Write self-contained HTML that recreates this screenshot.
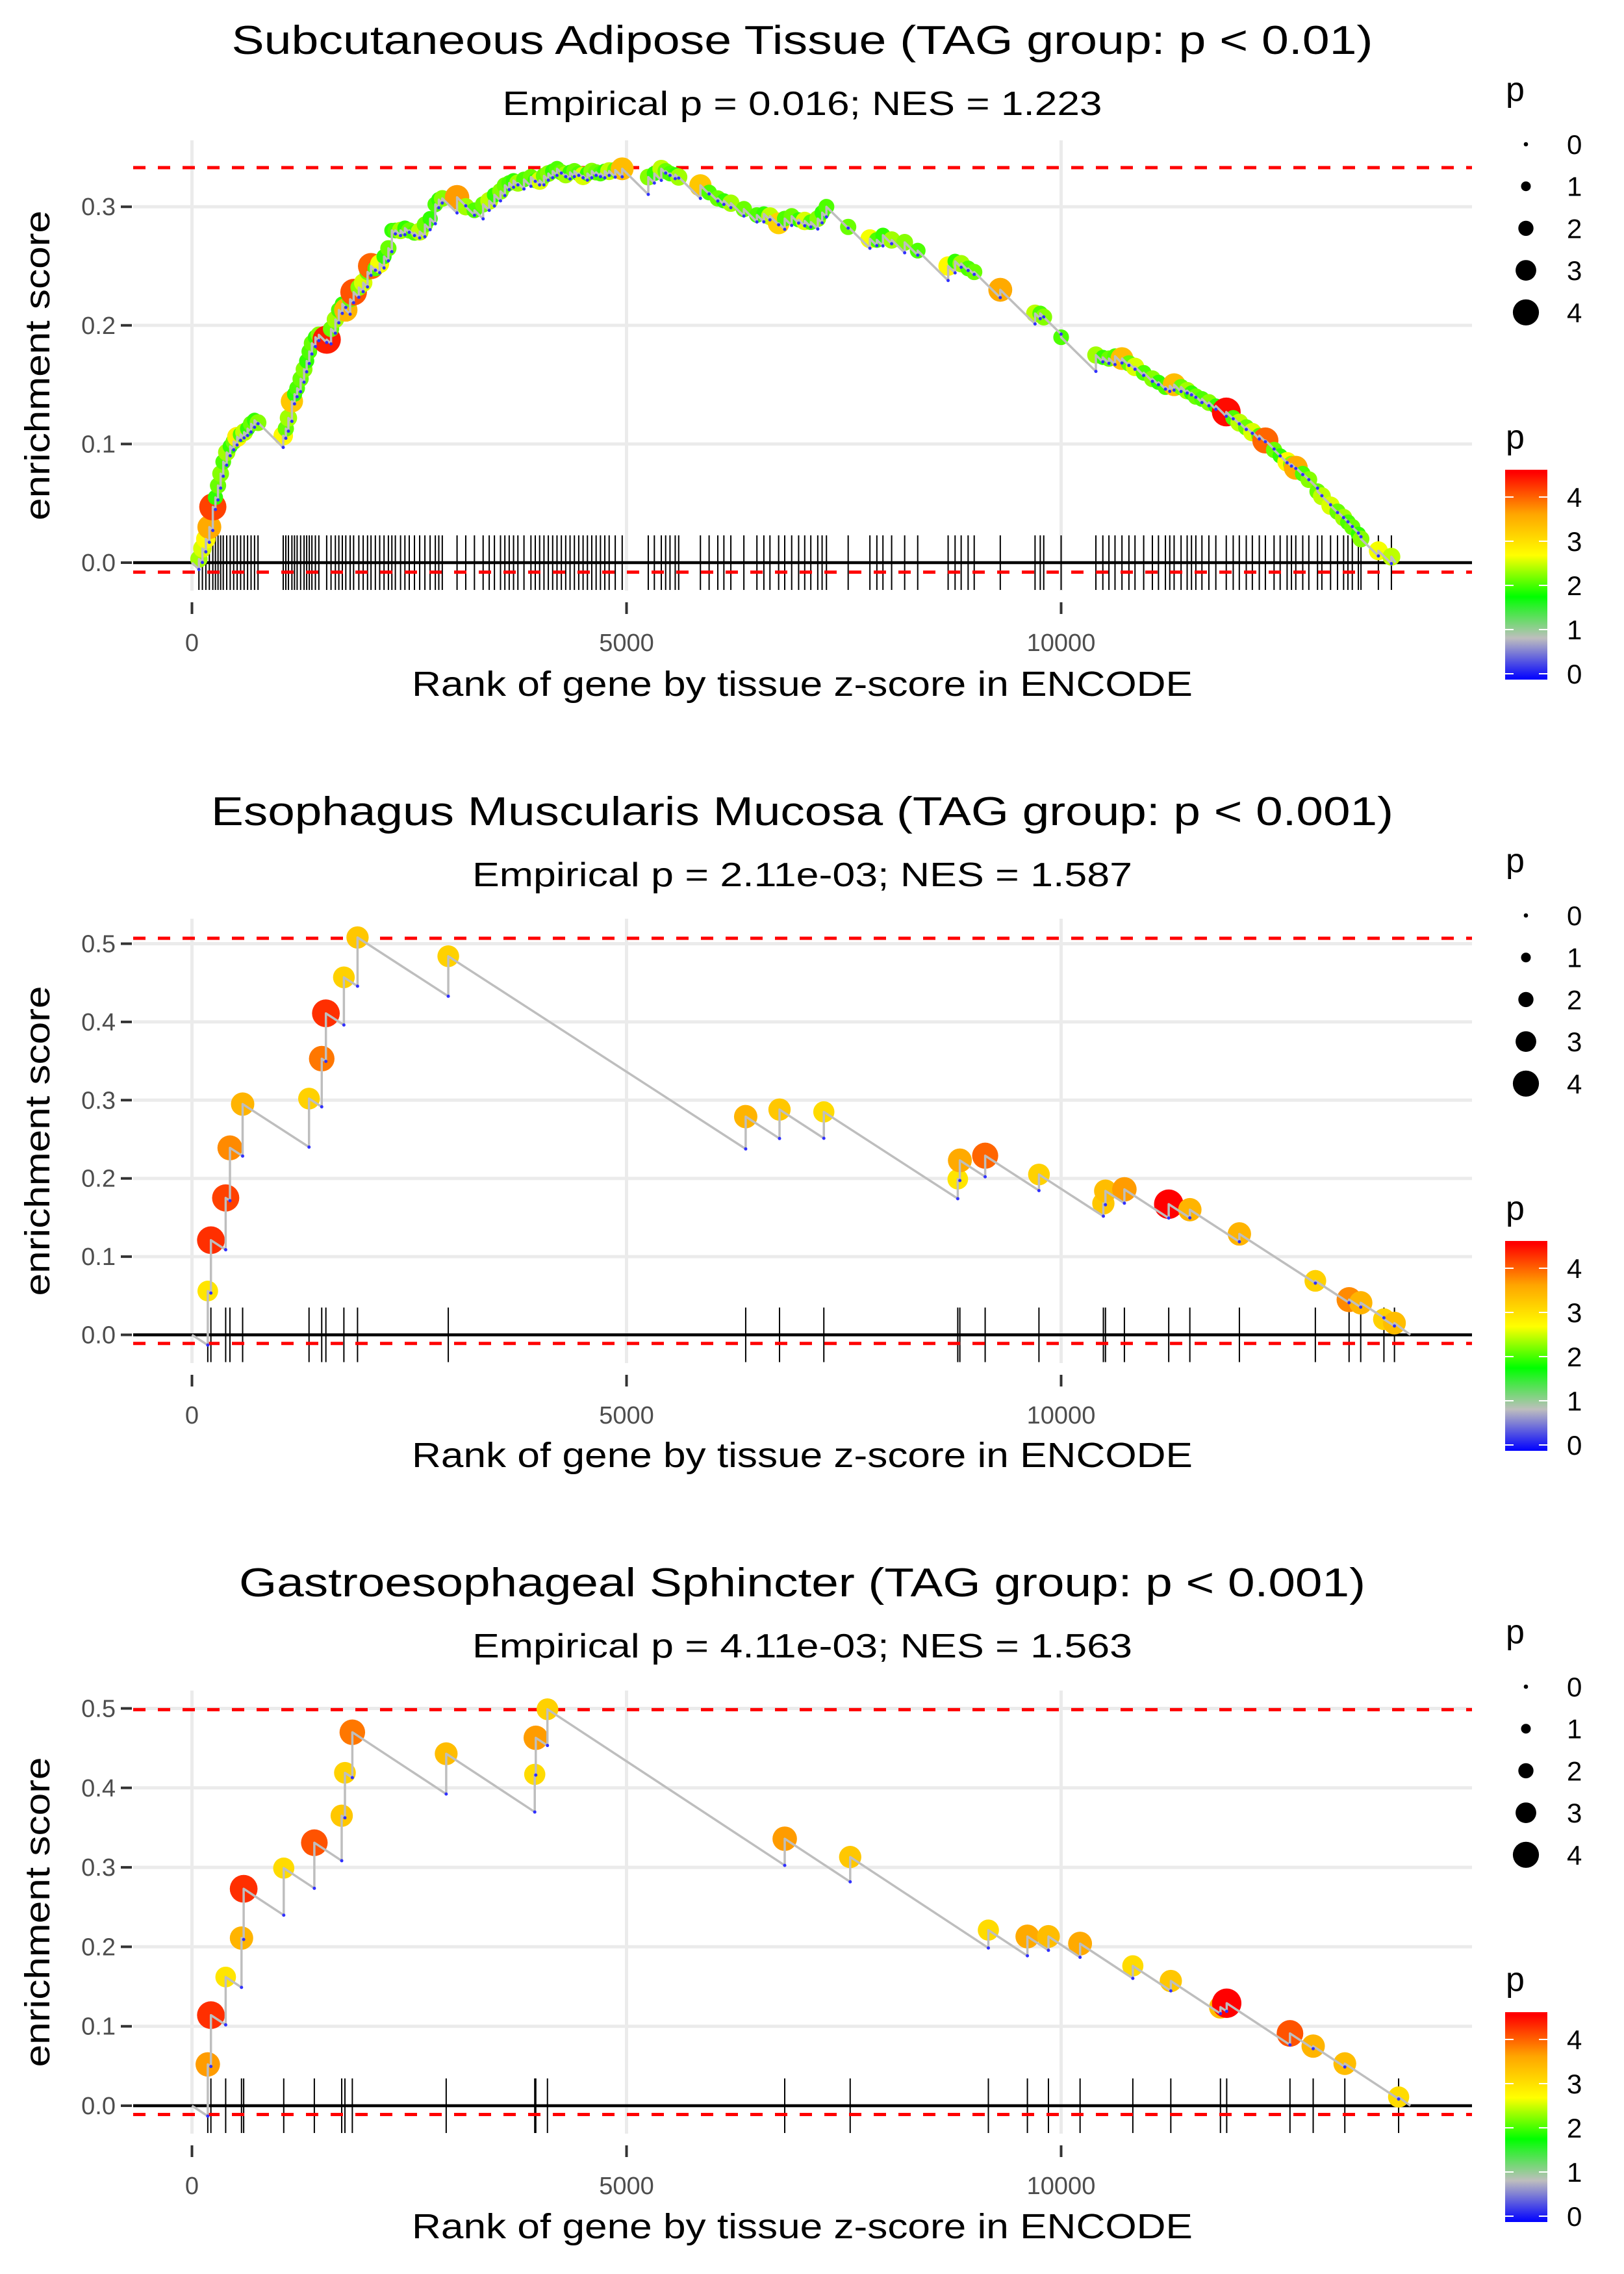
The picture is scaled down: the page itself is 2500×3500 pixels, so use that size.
<!DOCTYPE html>
<html><head><meta charset="utf-8"><style>
html,body{margin:0;padding:0;background:#fff;}
svg{display:block;font-family:"Liberation Sans",Arial,sans-serif;}
</style></head><body>
<svg id="chart" xmlns="http://www.w3.org/2000/svg" width="2500" height="3500" viewBox="0 0 2500 3500">
<rect x="0" y="0" width="2500" height="3500" fill="#fff"/>
</svg>
<script>
// ---- Panel 1: Subcutaneous Adipose Tissue ----
const p1Ranks=[80,120,160,200,240,270,300,330,360,400,
440,480,520,560,600,640,680,720,760,1050,
1080,1110,1150,1180,1210,1250,1290,1320,1350,1380,
1420,1460,1550,1600,1650,1690,1730,1770,1820,1860,
1920,1970,2020,2060,2110,2160,2210,2260,2300,2340,
2400,2450,2500,2560,2620,2680,2740,2800,2840,2880,
3050,3150,3250,3350,3420,3480,3550,3600,3650,3700,
3750,3820,3900,3950,4000,4050,4100,4150,4200,4250,
4300,4350,4400,4450,4500,4550,4600,4650,4700,4750,
4800,4870,4950,5250,5320,5400,5450,5500,5560,5600,
5850,5950,6050,6120,6200,6350,6500,6580,6650,6750,
6820,6900,6980,7050,7120,7200,7250,7300,7550,7800,
7880,7950,8050,8200,8350,8700,8780,8850,8930,9000,
9300,9700,9760,9800,10000,10400,10480,10550,10620,10700,
10780,10850,10950,11050,11120,11200,11250,11300,11380,11450,
11500,11550,11620,11700,11780,11900,11980,12050,12130,12200,
12280,12350,12450,12520,12600,12650,12700,12780,12850,12950,
13000,13100,13180,13250,13300,13350,13420,13450,13650,13800];
const p1ES=[.003,.012,.02,.03,.047,.055,.065,.075,.085,.093,
.098,.102,.106,.108,.11,.113,.117,.12,.118,.107,
.113,.122,.136,.142,.147,.155,.163,.17,.178,.185,
.19,.192,.188,.197,.205,.213,.218,.213,.222,.228,
.232,.236,.245,.25,.248,.252,.258,.265,.28,.28,
.28,.282,.28,.278,.279,.285,.29,.302,.306,.307,
.308,.30,.297,.302,.305,.31,.313,.318,.32,.322,
.32,.323,.325,.322,.322,.326,.328,.33,.332,.329,
.327,.329,.33,.328,.326,.328,.33,.329,.328,.33,
.33,.331,.332,.325,.328,.332,.33,.328,.327,.325,
.318,.312,.307,.305,.303,.298,.293,.294,.292,.286,
.29,.292,.289,.288,.287,.29,.295,.30,.283,.273,
.272,.276,.272,.27,.263,.25,.254,.252,.248,.245,
.23,.21,.21,.207,.19,.175,.173,.172,.174,.172,
.168,.165,.16,.155,.152,.148,.149,.15,.148,.145,
.143,.14,.138,.135,.132,.127,.122,.118,.114,.11,
.107,.103,.095,.09,.085,.083,.08,.075,.07,.06,
.056,.048,.043,.038,.034,.03,.024,.02,.01,.005];
const p1P=[2.4,2.6,2.8,3.6,4.2,2.0,2.2,2.3,2.1,2.4,
2.0,2.2,2.9,2.1,2.5,2.0,2.2,2.0,2.3,2.8,
2.2,2.4,3.3,2.0,2.1,2.2,2.3,2.0,2.1,2.2,
2.0,2.3,4.4,2.2,2.4,2.1,2.0,3.5,2.2,4.1,
2.3,2.6,2.2,4.0,2.1,2.7,2.0,2.2,2.0,2.1,
2.4,2.0,2.2,2.1,2.5,2.2,2.0,2.1,2.0,2.3,
3.7,2.4,2.1,2.2,2.5,2.0,2.3,2.2,2.1,2.0,
2.4,2.1,2.2,2.0,2.6,2.2,2.3,2.0,2.1,2.2,
2.4,2.0,2.2,2.1,2.6,2.0,2.3,2.2,2.1,2.0,
2.5,2.2,3.4,2.3,2.0,2.5,2.2,2.1,2.0,2.4,
3.3,2.1,2.2,2.0,2.4,2.2,2.1,2.0,2.5,3.2,
2.1,2.2,2.0,2.6,2.1,2.3,2.0,2.1,2.2,2.7,
2.1,2.0,2.4,2.3,2.1,2.8,2.0,2.4,2.1,2.2,
3.6,2.5,2.1,2.3,2.1,2.4,2.0,2.2,2.1,3.4,
2.2,2.6,2.1,2.3,2.0,2.1,2.0,3.4,2.2,2.4,
2.0,2.2,2.1,2.3,2.0,4.5,2.1,2.5,2.2,2.6,
2.1,4.0,2.2,2.0,2.8,2.3,3.6,2.1,2.3,2.2,
2.5,2.6,2.2,2.4,2.1,2.2,2.0,2.3,2.7,2.5];
// ---- Panel 2: Esophagus Muscularis Mucosa ----
const p2Ranks=[182,218,388,437,583,1347,1493,1541,1748,1905,2949,6371,6760,7270,8811,8835,9126,9745,10486,10510,10728,11238,11481,12051,12925,13313,13447,13714,13835];
const p2ES=[0.056,0.121,0.175,0.239,0.295,0.302,0.353,0.411,0.457,0.508,0.484,0.279,0.288,0.285,0.199,0.223,0.229,0.205,0.168,0.184,0.186,0.167,0.160,0.129,0.069,0.045,0.041,0.020,0.015];
const p2P=[3.0,4.3,4.2,3.8,3.5,3.2,3.9,4.3,3.2,3.3,3.2,3.5,3.3,3.1,3.0,3.6,4.0,3.2,3.3,3.4,3.7,4.6,3.5,3.5,3.2,3.8,3.5,3.2,3.4];
// ---- Panel 3: Gastroesophageal Sphincter ----
const p3Ranks=[182,218,388,570,595,1056,1408,1723,1760,1845,2925,3944,3956,4090,6820,7573,9163,9612,9854,10218,10825,11262,11833,11905,12633,12900,13264,13883];
const p3ES=[0.052,0.114,0.162,0.211,0.273,0.299,0.331,0.365,0.419,0.470,0.443,0.417,0.463,0.499,0.336,0.313,0.221,0.213,0.213,0.204,0.176,0.157,0.124,0.129,0.091,0.075,0.053,0.011];
const p3P=[3.7,4.3,3.0,3.5,4.3,3.1,4.1,3.3,3.2,3.9,3.4,3.1,3.7,3.2,3.7,3.3,3.1,3.6,3.4,3.6,3.1,3.3,3.4,4.6,4.1,3.5,3.4,3.1];
// ---- axis tick labels ----
const xTicks=[0,5000,10000];
const xTickLabels=["0","5000","10000"];
const yTicksP1=[0,0.1,0.2,0.3];
const yTicksP23=[0,0.1,0.2,0.3,0.4,0.5];
const legendValues=[0,1,2,3,4];
const titles=["Subcutaneous Adipose Tissue (TAG group: p < 0.01)","Esophagus Muscularis Mucosa (TAG group: p < 0.001)","Gastroesophageal Sphincter (TAG group: p < 0.001)"];
const subtitles=["Empirical p = 0.016; NES = 1.223","Empirical p = 2.11e-03; NES = 1.587","Empirical p = 4.11e-03; NES = 1.563"];
const esMax=[0.333,0.507,0.4985];
const esMin=[-0.008,-0.011,-0.011];

const NS="http://www.w3.org/2000/svg";
const svg=document.getElementById('chart');
function mk(tag,attrs,parent){const e=document.createElementNS(NS,tag);for(const k in attrs)e.setAttribute(k,attrs[k]);(parent||svg).appendChild(e);return e;}
const cstops=[[0,[0,0,255]],[0.912,[190,190,190]],[1.824,[0,255,0]],[2.736,[255,255,0]],[3.648,[255,165,0]],[4.56,[255,0,0]]];
function pColor(v){
  if(v<=cstops[0][0])return 'rgb(0,0,255)';
  for(let i=1;i<cstops.length;i++){if(v<=cstops[i][0]){const a=cstops[i-1],b=cstops[i];const t=(v-a[0])/(b[0]-a[0]);const c=a[1].map((x,j)=>Math.round(x+(b[1][j]-x)*t));return 'rgb('+c.join(',')+')';}}
  return 'rgb(255,0,0)';
}
function pSize(v){return 3.3+4.2*v;}
const xScale=r=>295.5+r*0.1338;
const panelLeft=205,panelRight=2266;
const panels=[
 {ranks:p1Ranks,es:p1ES,p:p1P,end:13850,slope:7.2e-5,y0:866,per:1826,top:216,bottom:909,yt:yTicksP1,dy:0,titleLen:1757,subLen:923},
 {ranks:p2Ranks,es:p2ES,p:p2P,end:14017,slope:7.2e-5,y0:2054.5,per:1204,top:1414,bottom:2098,yt:yTicksP23,dy:1187,titleLen:1820,subLen:1016},
 {ranks:p3Ranks,es:p3ES,p:p3P,end:14017,slope:7.2e-5,y0:3241,per:1223,top:2602,bottom:3284,yt:yTicksP23,dy:2374,titleLen:1734,subLen:1016}
];
const defs=mk('defs',{});
const grad=mk('linearGradient',{id:'pgrad',x1:'0',y1:'1',x2:'0',y2:'0'},defs);
cstops.forEach(s=>{mk('stop',{offset:(s[0]/4.62).toFixed(4),'stop-color':'rgb('+s[1].join(',')+')'},grad);});

panels.forEach((P,k)=>{
  const ys=v=>P.y0-v*P.per;
  const g=mk('g',{});
  
  
  const t=mk('text',{x:1235,y:83+P.dy,'text-anchor':'middle','font-size':62,fill:'#000',textLength:P.titleLen,lengthAdjust:'spacingAndGlyphs'},g);
  t.textContent=titles[k];
  
  
  const st=mk('text',{x:1235,y:177+P.dy,'text-anchor':'middle','font-size':52,fill:'#000',textLength:P.subLen,lengthAdjust:'spacingAndGlyphs'},g);
  st.textContent=subtitles[k];
  
  
  P.yt.forEach(v=>{
    const gl=mk('line',{x1:panelLeft,x2:panelRight,y1:ys(v),y2:ys(v),stroke:'#ebebeb','stroke-width':5},g);
    
    
  });
  xTicks.forEach(v=>{
    const gl=mk('line',{x1:xScale(v),x2:xScale(v),y1:P.top,y2:P.bottom,stroke:'#ebebeb','stroke-width':5},g);
    
    
  });
  P.yt.forEach(v=>{
    const tk=mk('line',{x1:186,x2:203,y1:ys(v),y2:ys(v),stroke:'#333','stroke-width':4},g);
    
    
    const tl=mk('text',{x:178,y:ys(v)+13,'text-anchor':'end','font-size':38,fill:'#4d4d4d'},g);
    tl.textContent=v.toFixed(1);
    
    
  });
  xTicks.forEach((v,i)=>{
    const tk=mk('line',{x1:xScale(v),x2:xScale(v),y1:P.bottom+18,y2:P.bottom+36,stroke:'#333','stroke-width':4},g);
    
    
    const tl=mk('text',{x:xScale(v),y:P.bottom+93,'text-anchor':'middle','font-size':38,fill:'#4d4d4d'},g);
    tl.textContent=xTickLabels[i];
    
    
  });
  const xt=mk('text',{x:1235,y:1071+P.dy,'text-anchor':'middle','font-size':54,fill:'#000',textLength:1202,lengthAdjust:'spacingAndGlyphs'},g);
  xt.textContent='Rank of gene by tissue z-score in ENCODE';
  
  
  const yc=(P.top+P.bottom)/2;
  const yt=mk('text',{x:0,y:0,'text-anchor':'middle','font-size':54,fill:'#000',textLength:477,lengthAdjust:'spacingAndGlyphs',transform:'translate(76,'+yc+') rotate(-90)'},g);
  yt.textContent='enrichment score';
  
  
  P.ranks.forEach(r=>{
    const rl=mk('line',{x1:xScale(r),x2:xScale(r),y1:P.y0-42,y2:P.y0+42,stroke:'#000','stroke-width':2},g);
    
    
  });
  const zl=mk('line',{x1:panelLeft,x2:panelRight,y1:P.y0,y2:P.y0,stroke:'#000','stroke-width':4.5},g);
  
  
  [esMax[k],esMin[k]].forEach((v,i)=>{
    const rd=mk('line',{x1:panelLeft,x2:panelRight,y1:ys(v),y2:ys(v),stroke:'#ff0000','stroke-width':5,'stroke-dasharray':'19 19'},g);
    
    
  });
  let d='M'+xScale(0)+' '+ys(0);
  let prevR=0,prevE=0;const lows=[];
  P.ranks.forEach((r,i)=>{
    const low=prevE-P.slope*(r-prevR);
    lows.push(low);
    d+=' L'+xScale(r).toFixed(1)+' '+ys(low).toFixed(1)+' L'+xScale(r).toFixed(1)+' '+ys(P.es[i]).toFixed(1);
    prevR=r;prevE=P.es[i];
  });
  d+=' L'+xScale(P.end).toFixed(1)+' '+ys(0).toFixed(1);
  P.ranks.forEach((r,i)=>{
    const c=mk('circle',{cx:xScale(r),cy:ys(P.es[i]),r:pSize(P.p[i]),fill:pColor(P.p[i])},g);
    
    
  });
  const path=mk('path',{d:d,fill:'none',stroke:'#bebebe','stroke-width':3.5,'stroke-linejoin':'round'},g);
  
  
  P.ranks.forEach((r,i)=>{
    const c=mk('circle',{cx:xScale(r),cy:ys(lows[i]),r:2.5,fill:'#3030ff'},g);
    
    
  });
  const st1=mk('text',{x:2318,y:155+P.dy,'font-size':52,fill:'#000'},g);
  st1.textContent='p';
  
  
  legendValues.forEach((v,i)=>{
    const cy=222+i*64.7+P.dy;
    const c=mk('circle',{cx:2349,cy:cy,r:pSize(v),fill:'#000'},g);
    
    
    const l=mk('text',{x:2412,y:cy+15,'font-size':42,fill:'#000'},g);
    l.textContent=String(v);
    
    
  });
  const ct=mk('text',{x:2318,y:690+P.dy,'font-size':52,fill:'#000'},g);
  ct.textContent='p';
  
  
  const cb=mk('rect',{x:2317,y:723+P.dy,width:65,height:323,fill:'url(#pgrad)'},g);
  
  
  legendValues.forEach(v=>{
    const yy=1037-v*68+P.dy;
    const a=mk('line',{x1:2317,x2:2330,y1:yy,y2:yy,stroke:'#fff','stroke-width':2},g);
    
    
    const b=mk('line',{x1:2369,x2:2382,y1:yy,y2:yy,stroke:'#fff','stroke-width':2},g);
    
    
    const l=mk('text',{x:2412,y:yy+15,'font-size':42,fill:'#000'},g);
    l.textContent=String(v);
    
    
  });
});
</script>
</body></html>
